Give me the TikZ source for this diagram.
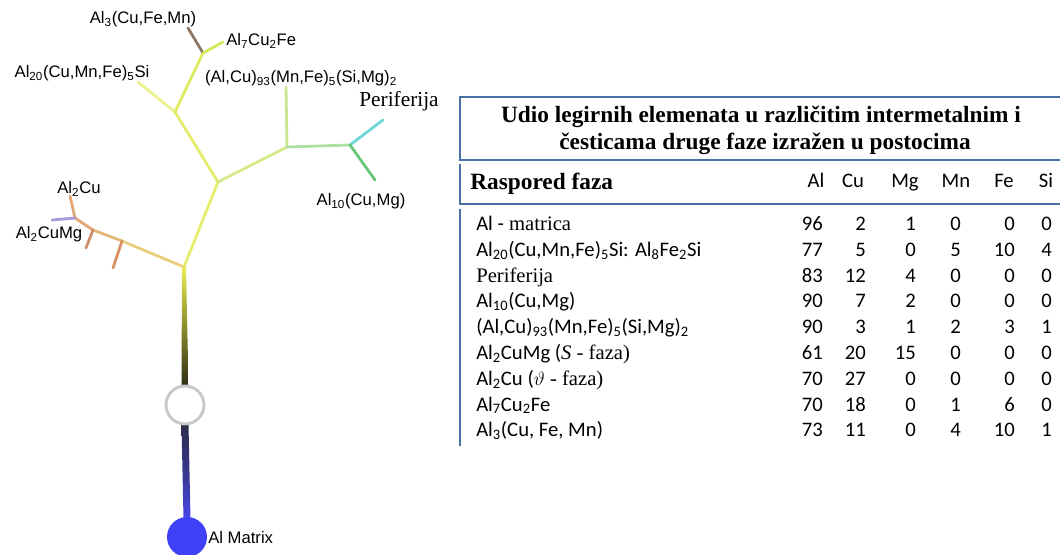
\documentclass[tikz,border=0pt]{standalone}
\usepackage{fontspec}
\setmainfont{Liberation Serif}
\newfontfamily\calfont{Carlito}
\newfontfamily\arialfont{Liberation Sans}
\usetikzlibrary{calc}
\definecolor{tblblue}{RGB}{72,112,162}
\definecolor{trY}{RGB}{236,236,84}
\definecolor{trM}{RGB}{140,140,44}
\definecolor{trD}{RGB}{46,46,20}
\definecolor{blT}{RGB}{44,44,74}
\definecolor{blM}{RGB}{54,54,140}
\definecolor{blB}{RGB}{72,72,236}
\definecolor{matrixblue}{RGB}{64,64,246}
\definecolor{ringgray}{RGB}{200,200,200}
\definecolor{cYel}{RGB}{230,236,110}
\definecolor{cYel2}{RGB}{238,242,140}
\definecolor{cYel3}{RGB}{222,234,96}
\definecolor{cBrown}{RGB}{140,118,100}
\definecolor{cAl7}{RGB}{214,232,90}
\definecolor{cGY}{RGB}{212,234,140}
\definecolor{cGY2}{RGB}{198,230,144}
\definecolor{cGr}{RGB}{176,224,160}
\definecolor{cCyan}{RGB}{112,214,214}
\definecolor{cGreen}{RGB}{100,200,120}
\definecolor{cOr1}{RGB}{232,206,122}
\definecolor{cOr2}{RGB}{230,184,120}
\definecolor{cOr3}{RGB}{226,168,120}
\definecolor{cTick}{RGB}{214,146,98}
\definecolor{cTick2}{RGB}{206,144,108}
\definecolor{cPurp}{RGB}{168,152,220}
\tikzset{
  br/.style={line width=2.1pt, line cap=round},
  tlab/.style={font=\arialfont\fontsize{12.5}{15}\selectfont, inner sep=0pt},
  tbl/.style={draw=tblblue, line width=1.9pt},
  num/.style={font=\calfont\fontsize{15.5}{18}\selectfont, inner sep=0pt, anchor=base east},
  rowlab/.style={font=\fontsize{15.5}{18}\selectfont, inner sep=0pt, anchor=base west},
  colhead/.style={font=\calfont\fontsize{15.5}{18}\selectfont, inner sep=0pt, anchor=base}
}
\begin{document}
\begin{tikzpicture}[x=0.75pt,y=-0.75pt]
\useasboundingbox (0,0) rectangle (1060,555);
% ---------------- tree ----------------
\coordinate (A) at (184,267);
\coordinate (B) at (122,241);
\coordinate (B2) at (93,230);
\coordinate (C) at (75,218);
\coordinate (t1) at (113,268);
\coordinate (t2) at (86,248);
\coordinate (cuTip) at (70,196);
\coordinate (puTip) at (52,220);
\coordinate (D) at (218,182);
\coordinate (E) at (175,112);
\coordinate (siTip) at (138,82);
\coordinate (G) at (203,53);
\coordinate (feTip) at (188,28);
\coordinate (alTip) at (223,42);
\coordinate (F) at (287,147);
\coordinate (fTip) at (286,87);
\coordinate (H) at (350,145);
\coordinate (cyTip) at (383,120);
\coordinate (grTip) at (375,180);
\coordinate (wcC) at (185,405);
\coordinate (bcC) at (187,537);

% trunk shadings
\shade[top color=trY, bottom color=trD, middle color=trM]
  ($(A)+(-2,0)$) -- ($(A)+(2,0)$) -- ($(wcC)+(3.5,-19)$) -- ($(wcC)+(-3.5,-19)$) -- cycle;
\shade[top color=blT, bottom color=blB, middle color=blM]
  ($(wcC)+(-3.5,19)$) -- ($(wcC)+(3.5,19)$) -- ($(bcC)+(3.5,-18)$) -- ($(bcC)+(-3.5,-18)$) -- cycle;

% left (orange) branch
\draw[br, cOr1] (A) -- (B);
\draw[br, cOr2] (B) -- (B2);
\draw[br, cOr3] (B2) -- (C);
\draw[br, cTick] (B) -- (t1);
\draw[br, cTick2] (B2) -- (t2);
\draw[br, cOr3] (C) -- (cuTip);
\draw[br, cPurp] (C) -- (puTip);
% main branches
\draw[br, cYel] (A) -- (D);
\draw[br, cYel] (D) -- (E);
\draw[br, cYel2] (E) -- (siTip);
\draw[br, cYel3] (E) -- (G);
\draw[br, cBrown] (G) -- (feTip);
\draw[br, cAl7] (G) -- (alTip);
\draw[br, cGY] (D) -- (F);
\draw[br, cGY2] (F) -- (fTip);
\draw[br, cGr] (F) -- (H);
\draw[br, cCyan] (H) -- (cyTip);
\draw[br, cGreen] (H) -- (grTip);

% circles
\node[circle, fill=white, draw=ringgray, line width=2.2pt, minimum size=28.5pt, inner sep=0pt] (wc) at (wcC) {};
\node[circle, fill=matrixblue, minimum size=30pt, inner sep=0pt] (bc) at (bcC) {};

% tree labels
\node[tlab, anchor=base] (l1) at (143,24) {Al\textsubscript{3}(Cu,Fe,Mn)};
\node[tlab, anchor=base west] (l2) at (226,46) {Al\textsubscript{7}Cu\textsubscript{2}Fe};
\node[tlab, anchor=base] (l3) at (82,78) {Al\textsubscript{20}(Cu,Mn,Fe)\textsubscript{5}Si};
\node[tlab, anchor=base] (l4) at (301,83) {(Al,Cu)\textsubscript{93}(Mn,Fe)\textsubscript{5}(Si,Mg)\textsubscript{2}};
\node[font=\fontsize{16}{19}\selectfont, inner sep=0pt, anchor=base] (l5) at (399,107) {Periferija};
\node[tlab, anchor=base] (l6) at (361,206) {Al\textsubscript{10}(Cu,Mg)};
\node[tlab, anchor=base] (l7) at (79,194) {Al\textsubscript{2}Cu};
\node[tlab, anchor=base] (l8) at (49,239) {Al\textsubscript{2}CuMg};
\node[tlab, anchor=base west] (l9) at (208,543) {Al Matrix};

% ---------------- table ----------------
\draw[tbl] (1062,97) -- (460,97) -- (460,160) -- (1062,160);
\draw[tbl] (460,164) -- (460,204) -- (1062,204);
\draw[tbl] (460,209) -- (460,446);

\node[font=\bfseries\fontsize{17.5}{20}\selectfont, inner sep=0pt, anchor=base] (t1l) at (761,122.5)
  {Udio legirnih elemenata u različitim intermetalnim i};
\node[font=\bfseries\fontsize{17.5}{20}\selectfont, inner sep=0pt, anchor=base] (t2l) at (765,149.5)
  {česticama druge faze izražen u postocima};

\node[font=\bfseries\fontsize{17.5}{20}\selectfont, inner sep=0pt, anchor=base west] (hrf) at (470,190) {Raspored faza};
\foreach \h/\hx [count=\i] in {Al/816,Cu/853,Mg/905,Mn/956,Fe/1004,Si/1046} {
  \node[colhead] (h\i) at (\hx,188) {\h};
}

% row labels
\node[rowlab] (r1) at (476,230.5) {{\calfont Al -} matrica};
\node[rowlab] (r2) at (476,256.3) {\calfont Al\textsubscript{20}(Cu,Mn,Fe)\textsubscript{5}Si: Al\textsubscript{8}Fe\textsubscript{2}Si};
\node[rowlab] (r3) at (476,282.1) {Periferija};
\node[rowlab] (r4) at (476,307.9) {\calfont Al\textsubscript{10}(Cu,Mg)};
\node[rowlab] (r5) at (476,333.7) {\calfont (Al,Cu)\textsubscript{93}(Mn,Fe)\textsubscript{5}(Si,Mg)\textsubscript{2}};
\node[rowlab] (r6) at (476,359.5) {{\calfont Al\textsubscript{2}CuMg (}\textit{S} - faza)};
\node[rowlab] (r7) at (476,385.3) {{\calfont Al\textsubscript{2}Cu (}$\vartheta$ - faza)};
\node[rowlab] (r8) at (476,411.1) {\calfont Al\textsubscript{7}Cu\textsubscript{2}Fe};
\node[rowlab] (r9) at (476,436.9) {\calfont Al\textsubscript{3}(Cu, Fe, Mn)};

% values
\foreach \vals [count=\r] in {{96,2,1,0,0,0},{77,5,0,5,10,4},{83,12,4,0,0,0},{90,7,2,0,0,0},{90,3,1,2,3,1},{61,20,15,0,0,0},{70,27,0,0,0,0},{70,18,0,1,6,0},{73,11,0,4,10,1}} {
  \pgfmathsetmacro\yy{230.5+25.8*(\r-1)}
  \foreach \v [count=\c] in \vals {
    \pgfmathsetmacro\xx{{823,866,916,961,1015,1052}[\c-1]}
    \node[num] (v\r-\c) at (\xx,\yy) {\v};
  }
}
\end{tikzpicture}
\end{document}
